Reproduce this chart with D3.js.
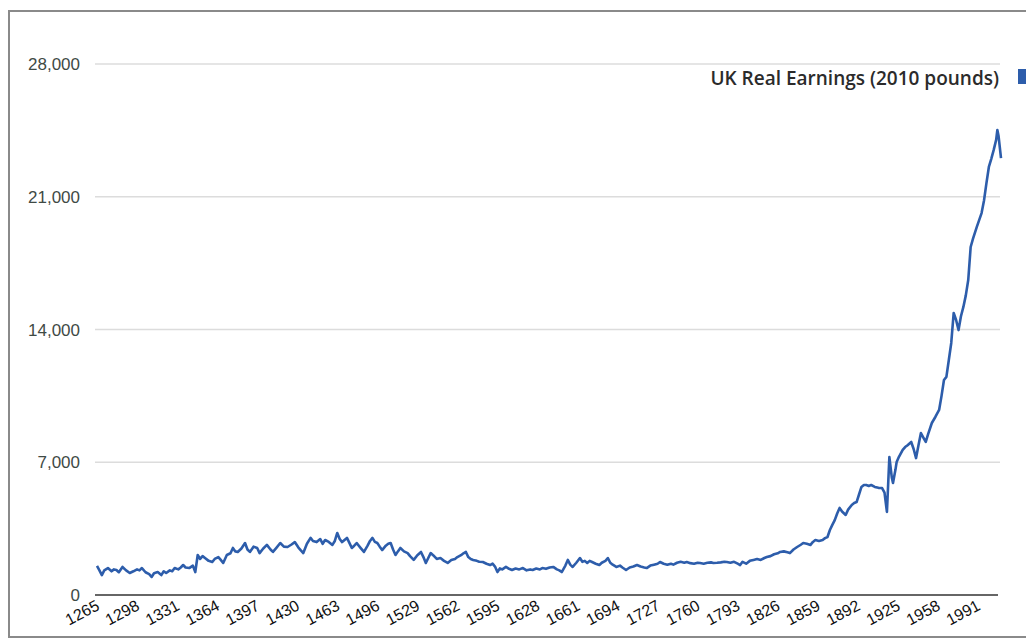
<!DOCTYPE html>
<html>
<head>
<meta charset="utf-8">
<script src="https://cdn.jsdelivr.net/npm/d3@7"></script>
<style>
  html, body { margin: 0; padding: 0; background: #fff; }
  svg { display: block; }
</style>
</head>
<body>
<svg id="chart" width="1026" height="639"></svg>
<script>
// ---- data ----
const seriesName = "UK Real Earnings (2010 pounds)";
const years = [
  1265,1267,1269,1271,1274,1277,1279,1281,1283,1286,1289,1292,1295,1298,1300,1302,1305,1308,1310,1312,
  1315,1318,1320,1322,1325,1327,1329,1332,1334,1336,1338,1341,1344,1346,1348,1350,1352,1354,1357,1360,
  1362,1365,1367,1369,1372,1375,1377,1379,1381,1384,1387,1389,1391,1394,1397,1399,1402,1405,1408,1410,
  1413,1416,1419,1422,1425,1428,1431,1433,1435,1438,1441,1443,1446,1449,1451,1453,1456,1459,1461,1463,
  1465,1467,1469,1471,1473,1475,1477,1479,1482,1485,1488,1490,1492,1494,1496,1498,1500,1503,1505,1507,
  1509,1511,1513,1515,1518,1521,1523,1526,1529,1532,1534,1536,1538,1540,1542,1545,1548,1551,1554,1557,
  1560,1562,1565,1567,1569,1571,1573,1575,1578,1580,1583,1586,1589,1591,1593,1595,1597,1599,1602,1604,
  1607,1610,1613,1616,1619,1622,1624,1627,1630,1632,1635,1638,1641,1644,1646,1648,1651,1653,1655,1657,
  1660,1663,1665,1667,1669,1671,1673,1676,1679,1681,1684,1686,1688,1690,1693,1696,1698,1701,1704,1707,
  1710,1713,1716,1718,1721,1724,1727,1729,1732,1735,1738,1740,1743,1746,1749,1751,1754,1757,1760,1762,
  1765,1768,1771,1773,1776,1779,1782,1784,1787,1790,1793,1795,1797,1800,1803,1806,1809,1812,1815,1817,
  1820,1823,1826,1828,1831,1834,1836,1839,1842,1845,1847,1850,1853,1855,1857,1860,1863,1865,1867,1869,
  1871,1873,1875,1877,1879,1882,1884,1887,1889,1891,1893,1895,1897,1899,1901,1903,1906,1909,1912,1914,
  1916,1918,1920,1921,1923,1924,1926,1929,1931,1933,1936,1938,1940,1942,1944,1946,1948,1950,1953,1956,
  1959,1961,1963,1965,1967,1969,1971,1973,1975,1977,1979,1981,1983,1985,1987,1990,1992,1994,1996,1998,
  2000,2002,2004,2006,2007,2008,2010
];
const earnings = [
  1530,1300,1050,1300,1420,1250,1350,1320,1200,1480,1300,1160,1250,1350,1300,1420,1200,1100,950,1150,
  1210,1050,1250,1160,1300,1250,1420,1350,1450,1580,1450,1420,1550,1210,2110,1900,2050,1950,1800,1740,
  1900,2000,1850,1690,2110,2200,2480,2300,2270,2450,2740,2400,2270,2550,2480,2210,2450,2640,2400,2270,
  2500,2740,2550,2530,2650,2790,2500,2350,2210,2700,3010,2850,2790,2950,2700,2900,2800,2640,2850,3270,
  2950,2790,2900,3010,2750,2480,2600,2740,2500,2270,2600,2850,3010,2800,2740,2550,2370,2600,2700,2740,
  2400,2110,2300,2480,2300,2210,2050,1850,2100,2270,2000,1690,1950,2210,2100,1900,1950,1800,1690,1850,
  1900,2000,2100,2200,2270,2000,1900,1850,1800,1750,1740,1650,1580,1650,1500,1210,1400,1350,1480,1400,
  1320,1400,1350,1420,1300,1350,1320,1400,1350,1420,1380,1450,1480,1350,1300,1210,1550,1850,1600,1480,
  1700,1950,1750,1800,1690,1800,1740,1650,1580,1700,1800,1950,1700,1600,1480,1550,1450,1320,1450,1500,
  1580,1500,1450,1420,1550,1600,1650,1740,1650,1600,1650,1600,1700,1750,1700,1740,1680,1650,1700,1690,
  1650,1700,1720,1690,1700,1720,1750,1740,1700,1750,1650,1580,1750,1650,1800,1850,1900,1850,1950,2000,
  2050,2150,2200,2270,2300,2250,2210,2400,2530,2650,2740,2700,2640,2800,2900,2850,2900,3000,3060,3430,
  3700,3950,4300,4590,4400,4220,4500,4750,4850,4900,5300,5700,5800,5800,5750,5800,5700,5650,5640,5400,
  4380,7280,6200,5910,6600,7010,7300,7650,7800,7900,8070,7700,7220,7900,8540,8300,8070,8500,9070,9400,
  9760,10500,11340,11500,12390,13290,14870,14500,13970,14700,15190,15800,16610,18350,18800,19400,19770,20140,20800,21720,
  22570,23000,23470,24000,24520,24200,23040
];
const xTickYears = [1265,1298,1331,1364,1397,1430,1463,1496,1529,1562,1595,1628,1661,1694,1727,1760,1793,1826,1859,1892,1925,1958,1991];
const yTickValues = [0, 7000, 14000, 21000, 28000];

// ---- layout ----
const svg = d3.select("#chart");
const W = 1026, H = 639;
const plot = { left: 95, right: 1000, top: 64, bottom: 595 };

const x = d3.scaleLinear().domain([1265, 2010]).range([97, 1001]);
const y = d3.scaleLinear().domain([0, 28000]).range([plot.bottom, plot.top]);

// scan frame
svg.append("path")
  .attr("d", `M${W + 5},11 L9,11 L9,637 L${W + 5},637`)
  .attr("fill", "none").attr("stroke", "#8a8a8a").attr("stroke-width", 2);

// gridlines
svg.append("g")
  .selectAll("line")
  .data(yTickValues.filter(v => v > 0))
  .join("line")
  .attr("x1", plot.left).attr("x2", plot.right)
  .attr("y1", d => y(d)).attr("y2", d => y(d))
  .attr("stroke", "#dcdcdc").attr("stroke-width", 1.5);

// y axis labels
const yAxis = d3.axisLeft(y).tickValues(yTickValues).tickSize(0).tickPadding(0)
  .tickFormat(d3.format(","));
const gy = svg.append("g").attr("transform", "translate(80,0)").call(yAxis);
gy.select(".domain").remove();
gy.selectAll("text")
  .attr("font-family", "'Liberation Sans', Arial, sans-serif")
  .attr("font-size", 17)
  .attr("fill", "#3f4a45")
  .attr("dy", "0.33em");

// baseline
svg.append("line")
  .attr("x1", plot.left).attr("x2", 998)
  .attr("y1", y(0)).attr("y2", y(0))
  .attr("stroke", "#666").attr("stroke-width", 2);

// x axis labels
const xAxis = d3.axisBottom(x).tickValues(xTickYears).tickSize(0).tickPadding(0)
  .tickFormat(d3.format("d"));
const gx = svg.append("g").attr("transform", `translate(0,${y(0)})`).call(xAxis);
gx.select(".domain").remove();
gx.selectAll("text")
  .attr("font-family", "'Liberation Sans', Arial, sans-serif")
  .attr("font-size", 16)
  .attr("fill", "#111")
  .attr("text-anchor", "end")
  .attr("dy", 0)
  .attr("y", 0)
  .attr("transform", "translate(3,14) rotate(-28)");

// line
const line = d3.line()
  .x((d, i) => x(years[i]))
  .y(d => y(d));
svg.append("path")
  .datum(earnings)
  .attr("d", line)
  .attr("fill", "none")
  .attr("stroke", "#2d5dab")
  .attr("stroke-width", 2.6)
  .attr("stroke-linejoin", "round");

// legend
svg.append("text")
  .attr("x", 999).attr("y", 85)
  .attr("text-anchor", "end")
  .attr("font-family", "'Open Sans', sans-serif")
  .attr("font-weight", 600)
  .attr("font-size", 19)
  .attr("fill", "#2b2b2b")
  .text(seriesName);
svg.append("rect")
  .attr("x", 1018).attr("y", 69).attr("width", 14).attr("height", 15)
  .attr("fill", "#2d5dab");
</script>
</body>
</html>
